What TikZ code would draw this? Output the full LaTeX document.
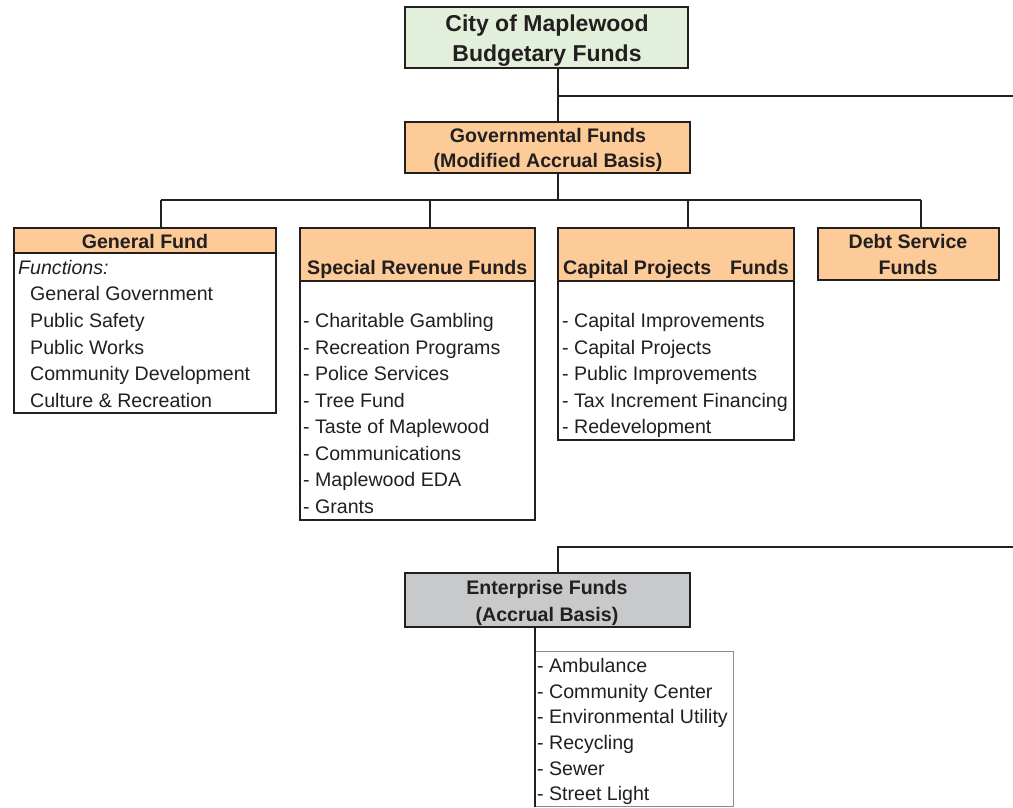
\documentclass[tikz,border=0pt]{standalone}
\usepackage{fontspec}
\setmainfont{Liberation Sans}
\definecolor{ink}{HTML}{231F20}
\definecolor{gfill}{HTML}{E2EFDA}
\definecolor{ofill}{HTML}{FCCB98}
\definecolor{efill}{HTML}{C8C9CA}
\definecolor{lgray}{HTML}{8C8C8C}
\newcommand\fsz{\fontsize{19.6}{26.6}\selectfont}
\newcommand\fbig{\fontsize{23}{30}\selectfont\bfseries}
\newcommand\mkbox[6]{\node[#6, minimum width=#4-#2, minimum height=#5-#3] (#1) at ({(#2+#4)/2},{(#3+#5)/2}) {};}
\tikzset{
  boxline/.style={draw=ink, line width=1.8pt, inner sep=0pt, outer sep=0pt, rectangle},
  thinbox/.style={draw=lgray, line width=0.9pt, inner sep=0pt, outer sep=0pt, rectangle},
  conn/.style={draw=ink, line width=1.4pt},
  txt/.style={inner sep=0pt, anchor=base west, font=\fsz, text=ink},
  ctxt/.style={inner sep=0pt, anchor=base, font=\fsz\bfseries, text=ink},
  btxt/.style={inner sep=0pt, anchor=base west, font=\fsz\bfseries, text=ink},
}
\begin{document}
\begin{tikzpicture}[x=1pt,y=-1pt]
\useasboundingbox (0,0) rectangle (1013,807);
% boxes
\mkbox{top}{405}{7}{688}{68}{boxline, fill=gfill}
\mkbox{gov}{405}{122}{690}{173}{boxline, fill=ofill}
\mkbox{gfh}{14}{228}{276}{253}{boxline, fill=ofill}
\mkbox{gfb}{14}{253}{276}{413}{boxline, fill=white}
\mkbox{srh}{300}{228}{535}{281}{boxline, fill=ofill}
\mkbox{srb}{300}{281}{535}{520}{boxline, fill=white}
\mkbox{cph}{558}{228}{794}{281}{boxline, fill=ofill}
\mkbox{cpb}{558}{281}{794}{440}{boxline, fill=white}
\mkbox{dsh}{818}{228}{999}{280}{boxline, fill=ofill}
\mkbox{ent}{405}{573}{690}{627}{boxline, fill=efill}
\mkbox{elist}{535}{651}{733}{806}{thinbox, fill=white}
% junction coordinates
\coordinate (j1) at (558,96);
\coordinate (j1e) at (1013,96);
\coordinate (j2) at (558,200);
\coordinate (d1) at (161,200);
\coordinate (d2) at (430,200);
\coordinate (d3) at (688,200);
\coordinate (d4) at (921,200);
\coordinate (e1) at (558,547);
\coordinate (e1e) at (1013,547);
\coordinate (ex) at (535,627);
\coordinate (ebot) at (535,807);
% connectors
\draw[conn] (top.south -| j1) -- (gov.north -| j1);
\draw[conn] (j1) -- (j1e);
\draw[conn] (gov.south -| j2) -- (j2);
\draw[conn] (d1) -- (d4);
\draw[conn] (d1) -- (gfh.north -| d1);
\draw[conn] (d2) -- (srh.north -| d2);
\draw[conn] (d3) -- (cph.north -| d3);
\draw[conn] (d4) -- (dsh.north -| d4);
\draw[conn] (e1e) -- (e1) -- (ent.north -| e1);
\draw[conn] (ent.south -| ex) -- (ebot);
% titles
\node[inner sep=0pt, anchor=base, font=\fbig, text=ink] (t1) at (547,31) {City of Maplewood};
\node[inner sep=0pt, anchor=base, font=\fbig, text=ink] (t2) at (547,61) {Budgetary Funds};
\node[ctxt] (g1) at (548,142) {Governmental Funds};
\node[ctxt] (g2) at (548,167) {(Modified Accrual Basis)};
\node[ctxt] (gf) at (145,248) {General Fund};
\node[btxt] (sr) at (307,274) {Special Revenue Funds};
\node[btxt] (cp1) at (563,274) {Capital Projects};
\node[ctxt, anchor=base east] (cp2) at (789,274) {Funds};
\node[ctxt] (ds1) at (908,248) {Debt Service};
\node[ctxt] (ds2) at (908,274) {Funds};
\node[ctxt] (en1) at (547,594) {Enterprise Funds};
\node[ctxt] (en2) at (547,621) {(Accrual Basis)};
% general fund
\node[txt, font=\fsz\itshape] (f0) at (18,274) {Functions:};
\node[txt] (f1) at (30,300) {General Government};
\node[txt] (f2) at (30,327) {Public Safety};
\node[txt] (f3) at (30,354) {Public Works};
\node[txt] (f4) at (30,380) {Community Development};
\node[txt] (f5) at (30,407) {Culture \& Recreation};
% special revenue
\node[txt] (s1) at (303,327) {- Charitable Gambling};
\node[txt] (s2) at (303,354) {- Recreation Programs};
\node[txt] (s3) at (303,380) {- Police Services};
\node[txt] (s4) at (303,407) {- Tree Fund};
\node[txt] (s5) at (303,433) {- Taste of Maplewood};
\node[txt] (s6) at (303,460) {- Communications};
\node[txt] (s7) at (303,486) {- Maplewood EDA};
\node[txt] (s8) at (303,513) {- Grants};
% capital projects
\node[txt] (c1) at (562,327) {- Capital Improvements};
\node[txt] (c2) at (562,354) {- Capital Projects};
\node[txt] (c3) at (562,380) {- Public Improvements};
\node[txt] (c4) at (562,407) {- Tax Increment Financing};
\node[txt] (c5) at (562,433) {- Redevelopment};
% enterprise list
\node[txt] (e1t) at (537,672) {- Ambulance};
\node[txt] (e2t) at (537,698) {- Community Center};
\node[txt] (e3t) at (537,723) {- Environmental Utility};
\node[txt] (e4t) at (537,749) {- Recycling};
\node[txt] (e5t) at (537,775) {- Sewer};
\node[txt] (e6t) at (537,800) {- Street Light};
\end{tikzpicture}
\end{document}
